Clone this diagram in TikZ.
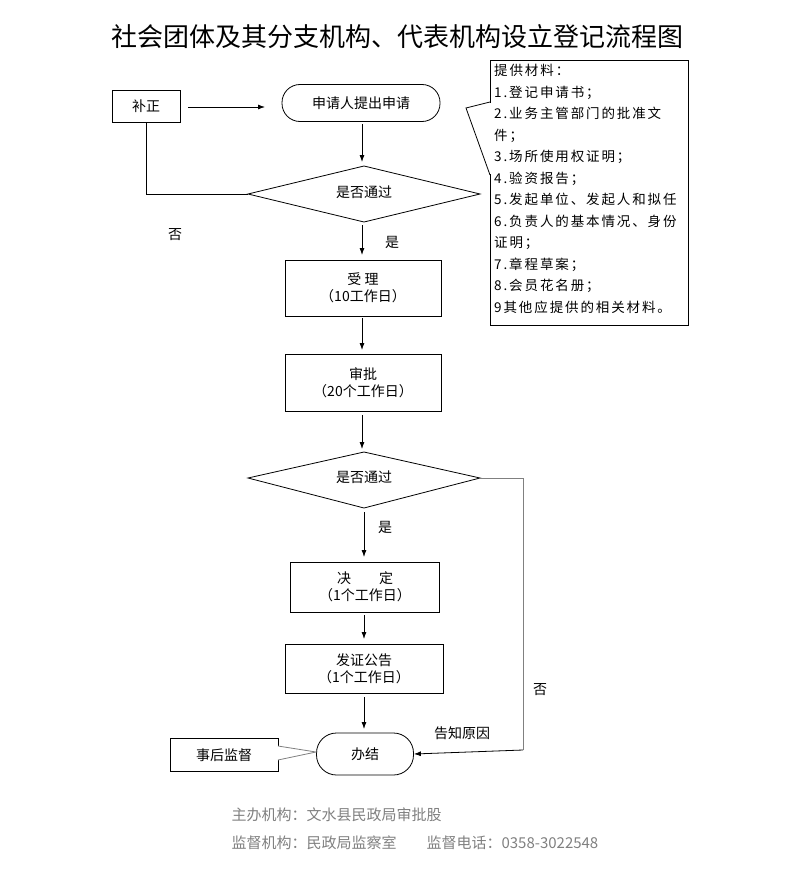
\documentclass[tikz,border=0pt]{standalone}
\usepackage{fontspec}
\setmainfont{Liberation Serif}
\newfontfamily\cjk{Noto Sans CJK SC}
\newfontfamily\cjkw[LetterSpace=14]{Noto Sans CJK SC}
\usetikzlibrary{arrows.meta}
\begin{document}
\begin{tikzpicture}[x=1pt,y=-1pt,font=\cjk\fontsize{14}{17}\selectfont,
 box/.style={draw,thick,minimum width=#1,align=center,inner sep=0pt},
 arr/.style={-{Latex[length=7pt,width=5pt]},thick},
 ln/.style={thick}]
\useasboundingbox (0,0) rectangle (793,875);
\node[font=\cjk\fontsize{26}{28}\selectfont] (title) at (397,37) {社会团体及其分支机构、代表机构设立登记流程图};
\node[box=68pt,minimum height=32pt] (bz) at (146,106) {补正};
\node[box=158pt,minimum height=37pt,rounded corners=18pt] (sq) at (361,103) {申请人提出申请};
\draw[thick] (248,194) coordinate (d1l) -- (364,166) -- (480,194) coordinate (d1r) -- (364,222) -- cycle;
\node (d1) at (364,192) {是否通过};
\node[box=156pt,minimum height=56pt] (sl) at (363,288) {受\ 理\\（10工作日）};
\node[box=156pt,minimum height=57pt] (sp) at (363,383) {审批\\（20个工作日）};
\draw[thick] (248,478) coordinate (d2l) -- (364,452) -- (480,478) coordinate (d2r) -- (364,508) -- cycle;
\node (d2) at (364,477) {是否通过};
\node[box=149pt,minimum height=50pt] (jd) at (365,587) {决\qquad 定\\（1个工作日）};
\node[box=158pt,minimum height=49pt] (fz) at (364,669) {发证公告\\（1个工作日）};
\node[box=97pt,minimum height=42pt,rounded corners=20pt] (bj) at (365,754) {办结};
\node[box=108pt,minimum height=33pt] (sh) at (224,755) {事后监督};
\node[draw,thick,minimum width=198pt,minimum height=265pt,inner sep=0pt] (cl) at (589,192.5) {};
\node[anchor=north west,align=left,inner sep=0pt,font=\cjkw\fontsize{13.5}{21.5}\selectfont] (cltxt) at (494,64) {提供材料：\\1.登记申请书；\\2.业务主管部门的批准文\\件；\\3.场所使用权证明；\\4.验资报告；\\5.发起单位、发起人和拟任\\6.负责人的基本情况、身份\\证明；\\7.章程草案；\\8.会员花名册；\\9其他应提供的相关材料。};
\draw[white,line width=2pt] (490,103) -- (490,174);
\draw[thick] (490,102) -- (466,108) -- (490,175);
% connectors
\draw[arr] (188,107) -- (265,107);
\draw[arr] (362,124) -- (362,162);
\draw[ln] (bz.south) -- (146,194) -- (d1l);
\node (no1) at (175,235) {否};
\draw[arr] (362,225) -- (362,255);
\node (yes1) at (392,242) {是};
\draw[arr] (362,318) -- (362,350);
\draw[arr] (362,415) -- (362,449);
\draw[arr] (364,512) -- (364,557);
\node (yes2) at (385,527) {是};
\draw[arr] (364,615) -- (364,639);
\draw[arr] (364,697) -- (364,729);
\draw[thick,gray] (d2r) -- (523,478) -- (523,750);
\draw[arr] (523,750) -- (bj.east);
\node (no2) at (540,690) {否};
\node (why) at (462,733) {告知原因};
\draw[thick,gray,fill=white] (278,746) -- (316,752) -- (278,760);
\node[font=\cjk\fontsize{15}{17}\selectfont,text=gray,anchor=west] (f1) at (228,815) {主办机构：文水县民政局审批股};
\node[font=\cjk\fontsize{15}{17}\selectfont,text=gray,anchor=west] (f2) at (228,843) {监督机构：民政局监察室\qquad 监督电话：0358-3022548};
\end{tikzpicture}
\end{document}
